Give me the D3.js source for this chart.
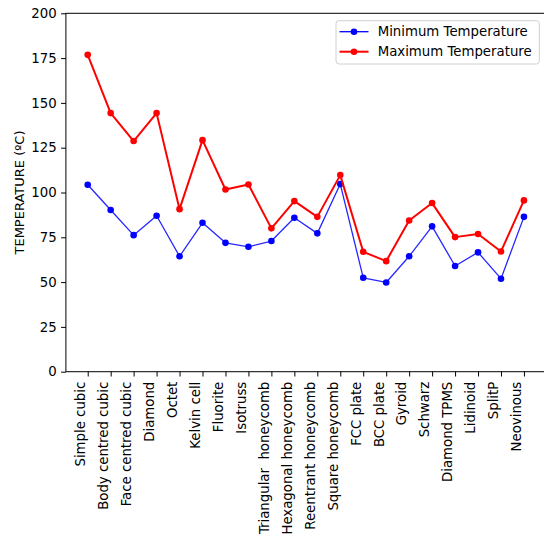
<!DOCTYPE html>
<html><head><meta charset="utf-8">
<script src="https://cdn.jsdelivr.net/npm/d3@7"></script>
<style>body{margin:0;background:#fff}svg{display:block;font-family:"DejaVu Sans",sans-serif}</style>
</head><body>
<svg id="c" width="544" height="536"></svg>
<script>
const categories = ["Simple cubic","Body centred cubic","Face centred cubic","Diamond","Octet","Kelvin cell","Fluorite","Isotruss","Triangular  honeycomb","Hexagonal honeycomb","Reentrant honeycomb","Square honeycomb","FCC plate","BCC plate","Gyroid","Schwarz","Diamond TPMS","Lidinoid","SplitP","Neovinous"];
const minTemp = [104.3,90.2,76.2,87.0,64.4,83.1,71.9,69.7,72.9,85.9,77.2,104.7,52.4,49.8,64.4,81.1,59.0,66.6,51.9,86.4];
const maxTemp = [176.8,144.3,128.7,144.3,90.7,129.2,101.7,104.5,80.0,95.2,86.4,109.7,66.9,61.7,84.4,94.1,75.1,76.8,67.1,95.6];
const yTicks = [0,25,50,75,100,125,150,175,200];
const seriesNames = ["Minimum Temperature","Maximum Temperature"];
const seriesColors = ["#0000ff","#ff0000"];

const FS = 13.3;
const svg = d3.select("#c");
const L = 65.9, T = 13.3, B = 371.7;
const step = 22.96;
const x = d3.scaleLinear().domain([-0.95, categories.length - 1 + 0.95]).range([L, L + (categories.length - 1 + 1.9) * step]);
const y = d3.scaleLinear().domain([0, 200]).range([B, T]);
const R = x.range()[1];

// frame
const g = svg.append("g");
g.append("rect").attr("x", L).attr("y", T).attr("width", R - L).attr("height", B - T)
  .attr("fill", "none").attr("stroke", "#000").attr("stroke-width", 1);

// y axis
const ya = g.append("g").attr("transform", `translate(${L},0)`)
  .call(d3.axisLeft(y).tickValues(yTicks).tickSize(4.8).tickPadding(4.5).tickFormat(d3.format("d")));
ya.select(".domain").remove();
ya.selectAll("text").attr("font-size", FS).attr("fill", "#000").attr("font-family", "DejaVu Sans");
ya.selectAll("line").attr("stroke", "#000");

// x axis
const xa = g.append("g").attr("transform", `translate(0,${B})`)
  .call(d3.axisBottom(x).tickValues(d3.range(categories.length)).tickSize(4.8).tickFormat(i => categories[i]));
xa.select(".domain").remove();
xa.selectAll("line").attr("stroke", "#000");
xa.selectAll("text").attr("font-size", FS).attr("fill", "#000").attr("font-family", "DejaVu Sans")
  .attr("text-anchor", "end").attr("transform", "translate(0,10) rotate(-90)")
  .attr("x", 0).attr("y", 0).attr("dy", "-0.24em").style("white-space", "pre");

// y label
svg.append("text").attr("transform", `translate(24.3,${(T + B) / 2}) rotate(-90)`)
  .attr("text-anchor", "middle").attr("font-size", 13).attr("fill", "#000")
  .text("TEMPERATURE (ºC)");

// lines
const series = [minTemp, maxTemp];
const widths = [1.3, 2];
series.forEach((vals, si) => {
  const line = d3.line().x((d, i) => x(i)).y(d => y(d));
  g.append("path").datum(vals).attr("d", line).attr("fill", "none")
    .attr("stroke", seriesColors[si]).attr("stroke-width", widths[si]).attr("stroke-linejoin", "round")
    .attr("opacity", si === 0 ? 0.85 : 1);
  g.selectAll(null).data(vals).enter().append("circle")
    .attr("cx", (d, i) => x(i)).attr("cy", d => y(d)).attr("r", 3.3).attr("fill", seriesColors[si]);
});

// legend
const lg = svg.append("g");
lg.append("rect").attr("x", 336).attr("y", 20.7).attr("width", 203.3).attr("height", 43.3)
  .attr("rx", 3).attr("fill", "#fff").attr("fill-opacity", 0.8).attr("stroke", "#d0d0d0").attr("stroke-width", 1);
seriesNames.forEach((n, i) => {
  const yy = 31.7 + i * 20;
  lg.append("line").attr("x1", 339.5).attr("x2", 368.5).attr("y1", yy).attr("y2", yy)
    .attr("stroke", seriesColors[i]).attr("stroke-width", widths[i]);
  lg.append("circle").attr("cx", 354).attr("cy", yy).attr("r", 3.3).attr("fill", seriesColors[i]);
  lg.append("text").attr("x", 377.7).attr("y", yy).attr("dy", "0.36em").attr("font-size", FS)
    .attr("fill", "#000").text(n);
});
</script>
</body></html>
